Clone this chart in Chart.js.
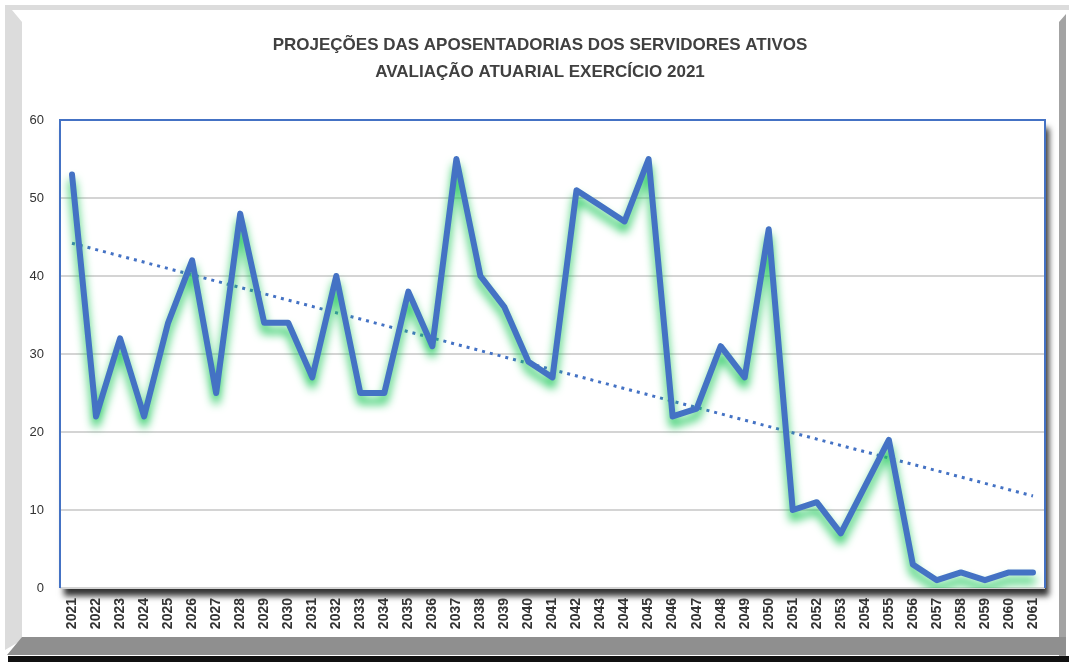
<!DOCTYPE html>
<html>
<head>
<meta charset="utf-8">
<script src="https://cdn.jsdelivr.net/npm/chart.js@4/dist/chart.umd.min.js"></script>
<style>
  html, body { margin: 0; padding: 0; background: #ffffff; }
  #wrap { width: 1069px; height: 662px; position: relative; }
</style>
</head>
<body>
<div id="wrap"><canvas id="chart" width="1069" height="662"></canvas></div>
<script>
// Years on the x axis
const years = ['2021', '2022', '2023', '2024', '2025', '2026', '2027', '2028', '2029', '2030',
  '2031', '2032', '2033', '2034', '2035', '2036', '2037', '2038', '2039', '2040',
  '2041', '2042', '2043', '2044', '2045', '2046', '2047', '2048', '2049', '2050',
  '2051', '2052', '2053', '2054', '2055', '2056', '2057', '2058', '2059', '2060', '2061'];

// Retirements per year
const retirements = [53, 22, 32, 22, 34, 42, 25, 48, 34, 34,
  27, 40, 25, 25, 38, 31, 55, 40, 36, 29,
  27, 51, 49, 47, 55, 22, 23, 31, 27, 46,
  10, 11, 7, 13, 19, 3, 1, 2, 1, 2, 2];

// Linear trend: only the two ends, the library joins them
const trendStart = 44.2;
const trendEnd = 11.8;
const trend = years.map((y, i) => i === 0 ? trendStart : (i === years.length - 1 ? trendEnd : null));

const yTicks = [0, 10, 20, 30, 40, 50, 60];

const titleLines = ['PROJEÇÕES DAS APOSENTADORIAS DOS SERVIDORES ATIVOS', 'AVALIAÇÃO ATUARIAL EXERCÍCIO 2021'];

// Frame around the whole picture, the shadowed plot box and the title
const framePlugin = {
  id: 'frame',
  beforeDraw(chart) {
    const ctx = chart.ctx;
    const a = chart.chartArea;
    ctx.save();
    // top light band
    ctx.fillStyle = '#dcdcdc';
    ctx.fillRect(5, 5, 1064, 5);
    // left light band with bevel
    ctx.beginPath();
    ctx.moveTo(5, 10); ctx.lineTo(12, 10); ctx.lineTo(22, 22); ctx.lineTo(22, 640); ctx.lineTo(5, 650);
    ctx.closePath(); ctx.fill();
    // right dark band
    ctx.fillStyle = '#a3a3a3';
    ctx.beginPath();
    ctx.moveTo(1059, 22); ctx.lineTo(1066, 14); ctx.lineTo(1066, 657); ctx.lineTo(1059, 657);
    ctx.closePath(); ctx.fill();
    // bottom band
    ctx.fillStyle = '#8f8f8f';
    ctx.beginPath();
    ctx.moveTo(22, 637); ctx.lineTo(1066, 637); ctx.lineTo(1066, 655); ctx.lineTo(7, 655);
    ctx.closePath(); ctx.fill();
    ctx.fillStyle = '#111111';
    ctx.fillRect(8, 656, 1061, 6);
    // plot box with drop shadow
    ctx.shadowColor = 'rgba(0,0,0,0.8)';
    ctx.shadowBlur = 6;
    ctx.shadowOffsetX = 4;
    ctx.shadowOffsetY = 8;
    ctx.fillStyle = '#ffffff';
    ctx.fillRect(a.left, a.top, a.right - a.left, a.bottom - a.top);
    ctx.restore();
  },
  afterDraw(chart) {
    const ctx = chart.ctx;
    const a = chart.chartArea;
    ctx.save();
    ctx.strokeStyle = '#4472c4';
    ctx.lineWidth = 2;
    ctx.beginPath();
    ctx.moveTo(a.left, a.bottom);
    ctx.lineTo(a.left, a.top);
    ctx.lineTo(a.right, a.top);
    ctx.lineTo(a.right, a.bottom);
    ctx.stroke();
    // two-line title, centred on the picture
    ctx.fillStyle = '#404040';
    ctx.font = 'bold 17px "Liberation Sans"';
    ctx.textAlign = 'center';
    ctx.textBaseline = 'middle';
    ctx.fillText(titleLines[0], 540, 45);
    ctx.fillText(titleLines[1], 540, 72);
    ctx.restore();
  }
};

// Green glow under the main line
const glowPlugin = {
  id: 'glow',
  beforeDatasetDraw(chart, args) {
    if (args.index !== 0) return;
    const ctx = chart.ctx;
    ctx.save();
    ctx.shadowColor = 'rgba(30,200,90,1)';
    ctx.shadowBlur = 10;
    ctx.shadowOffsetY = 8;
  },
  afterDatasetDraw(chart, args) {
    if (args.index !== 0) return;
    chart.ctx.restore();
  }
};

const ctx = document.getElementById('chart').getContext('2d');

new Chart(ctx, {
  type: 'line',
  data: {
    labels: years,
    datasets: [{
      label: 'Aposentadorias',
      data: retirements,
      borderColor: '#4472c4',
      borderWidth: 6,
      borderJoinStyle: 'round',
      borderCapStyle: 'round',
      pointRadius: 0,
      tension: 0,
      fill: false
    }, {
      label: 'Tendência',
      data: trend,
      borderColor: '#4472c4',
      borderWidth: 3,
      borderDash: [3, 5],
      pointRadius: 0,
      spanGaps: true,
      fill: false
    }]
  },
  options: {
    responsive: false,
    animation: false,
    layout: { padding: { left: 0, right: 24, top: 120, bottom: 24 } },
    plugins: {
      legend: { display: false },
      tooltip: { enabled: false },
      title: { display: false }
    },
    scales: {
      x: {
        offset: true,
        grid: { display: false, drawTicks: false },
        border: { display: false },
        ticks: {
          autoSkip: false,
          minRotation: 90,
          maxRotation: 90,
          padding: 10,
          color: '#333333',
          font: { family: 'Liberation Sans', size: 14, weight: 'bold' }
        },
        afterFit(scale) { scale.height = 50; }
      },
      y: {
        min: 0,
        max: 60,
        grid: { color: '#d4d4d4', lineWidth: 2, drawTicks: false },
        border: { display: false },
        afterBuildTicks(scale) { scale.ticks = yTicks.map(v => ({ value: v })); },
        ticks: {
          padding: 16,
          color: '#333333',
          font: { family: 'Liberation Sans', size: 13 }
        },
        afterFit(scale) { scale.width = 60; }
      }
    }
  },
  plugins: [framePlugin, glowPlugin]
});
</script>
</body>
</html>
